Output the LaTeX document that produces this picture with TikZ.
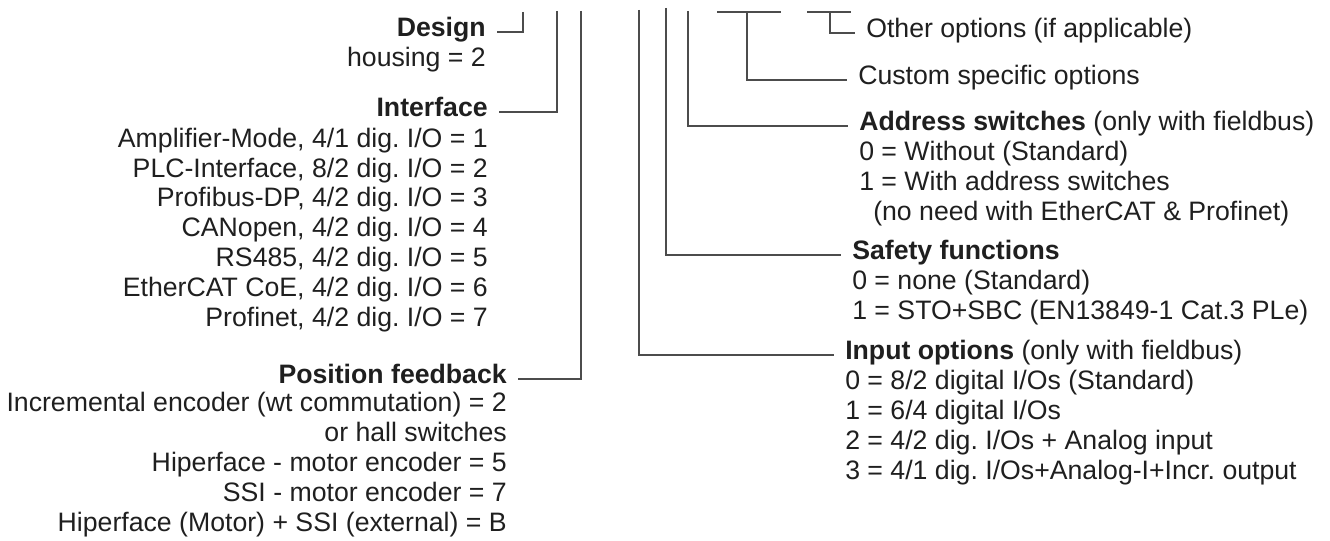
\documentclass[tikz,border=0pt]{standalone}
\usepackage{fontspec}
\setmainfont{Liberation Sans}
\usepackage{tikz}
\frenchspacing

\tikzset{
  lbl/.style={inner xsep=0pt, inner ysep=0pt, text height=0.716em, text depth=0pt,
    font=\fontsize{20}{24}\selectfont, text=black!88},
  conn/.style={draw=black!70, line width=0.9pt, shorten >=8pt},
  bar/.style={draw=black!70, line width=0.9pt},
}

\begin{document}
\begin{tikzpicture}[x=0.75pt,y=0.75pt,yscale=-1,xscale=1]
    \useasboundingbox (0,0) rectangle (1330,541);

    % Text Node: left column
    \draw (486,32) node (design) [anchor=east] [lbl] {\bfseries Design};
    \draw (486,62) node (housing) [anchor=east] [lbl] {housing = 2};
    \draw (488,112) node (iface) [anchor=east] [lbl] {\bfseries Interface};
    \draw (488,143) node (ifAmp) [anchor=east] [lbl] {Amplifier-Mode, 4/1 dig. I/O = 1};
    \draw (488,173) node (ifPlc) [anchor=east] [lbl] {PLC-Interface, 8/2 dig. I/O = 2};
    \draw (488,202) node (ifDp) [anchor=east] [lbl] {Profibus-DP, 4/2 dig. I/O = 3};
    \draw (488,232) node (ifCan) [anchor=east] [lbl] {CANopen, 4/2 dig. I/O = 4};
    \draw (488,262) node (ifRs) [anchor=east] [lbl] {RS485, 4/2 dig. I/O = 5};
    \draw (488,292) node (ifEcat) [anchor=east] [lbl] {EtherCAT CoE, 4/2 dig. I/O = 6};
    \draw (488,322) node (ifPn) [anchor=east] [lbl] {Profinet, 4/2 dig. I/O = 7};
    \draw (507,379) node (posfb) [anchor=east] [lbl] {\bfseries Position feedback};
    \draw (507,407) node (pfInc) [anchor=east] [lbl] {Incremental encoder (wt commutation) = 2};
    \draw (507,437) node (pfHall) [anchor=east] [lbl] {or hall switches};
    \draw (507,467) node (pfHip) [anchor=east] [lbl] {Hiperface - motor encoder = 5};
    \draw (507,497) node (pfSsi) [anchor=east] [lbl] {SSI - motor encoder = 7};
    \draw (507,527) node (pfBoth) [anchor=east] [lbl] {Hiperface (Motor) + SSI (external) = B};

    % Text Node: right column
    \draw (866,33) node (other) [anchor=west] [lbl] {Other options (if applicable)};
    \draw (858,80) node (custom) [anchor=west] [lbl] {Custom specific options};
    \draw (859,126) node (addr) [anchor=west] [lbl] {{\bfseries Address switches} (only with fieldbus)};
    \draw (859,156) node (adWo) [anchor=west] [lbl] {0 = Without (Standard)};
    \draw (859,186) node (adWith) [anchor=west] [lbl] {1 = With address switches};
    \draw (873,216) node (adNote) [anchor=west] [lbl] {(no need with EtherCAT \& Profinet)};
    \draw (852,255) node (safety) [anchor=west] [lbl] {\bfseries Safety functions};
    \draw (852,285) node (sfNone) [anchor=west] [lbl] {0 = none (Standard)};
    \draw (852,315) node (sfSto) [anchor=west] [lbl] {1 = STO+SBC (EN13849-1 Cat.3 PLe)};
    \draw (845,355) node (input) [anchor=west] [lbl] {{\bfseries Input options} (only with fieldbus)};
    \draw (845,385) node (inStd) [anchor=west] [lbl] {0 = 8/2 digital I/Os (Standard)};
    \draw (845,415) node (inSix) [anchor=west] [lbl] {1 = 6/4 digital I/Os};
    \draw (845,445) node (inAna) [anchor=west] [lbl] {2 = 4/2 dig. I/Os + Analog input};
    \draw (845,475) node (inIncr) [anchor=west] [lbl] {3 = 4/1 dig. I/Os+Analog-I+Incr. output};

    %Straight Lines: upper ends of the brackets
    \coordinate (desTop) at (523,12);
    \coordinate (ifTop) at (557,11);
    \coordinate (pfTop) at (581,11);
    \coordinate (inTop) at (639,10);
    \coordinate (sfTop) at (666,8);
    \coordinate (adTop) at (688,11);
    \coordinate (cuTop) at (747,12);
    \coordinate (cuL) at (717,12);
    \coordinate (cuR) at (781,12);
    \coordinate (otTop) at (830,12);
    \coordinate (otL) at (807,12);
    \coordinate (otR) at (851,12);

    %Straight Lines
    \draw [conn] (desTop) |- (design);
    \draw [conn] (ifTop) |- (iface);
    \draw [conn] (pfTop) |- (posfb);
    \draw [conn] (inTop) |- (input);
    \draw [conn] (sfTop) |- (safety);
    \draw [conn] (adTop) |- (addr);
    \draw [bar] (cuL) -- (cuR);
    \draw [conn] (cuTop) |- (custom);
    \draw [bar] (otL) -- (otR);
    \draw [conn] (otTop) |- (other);

\end{tikzpicture}
\end{document}
